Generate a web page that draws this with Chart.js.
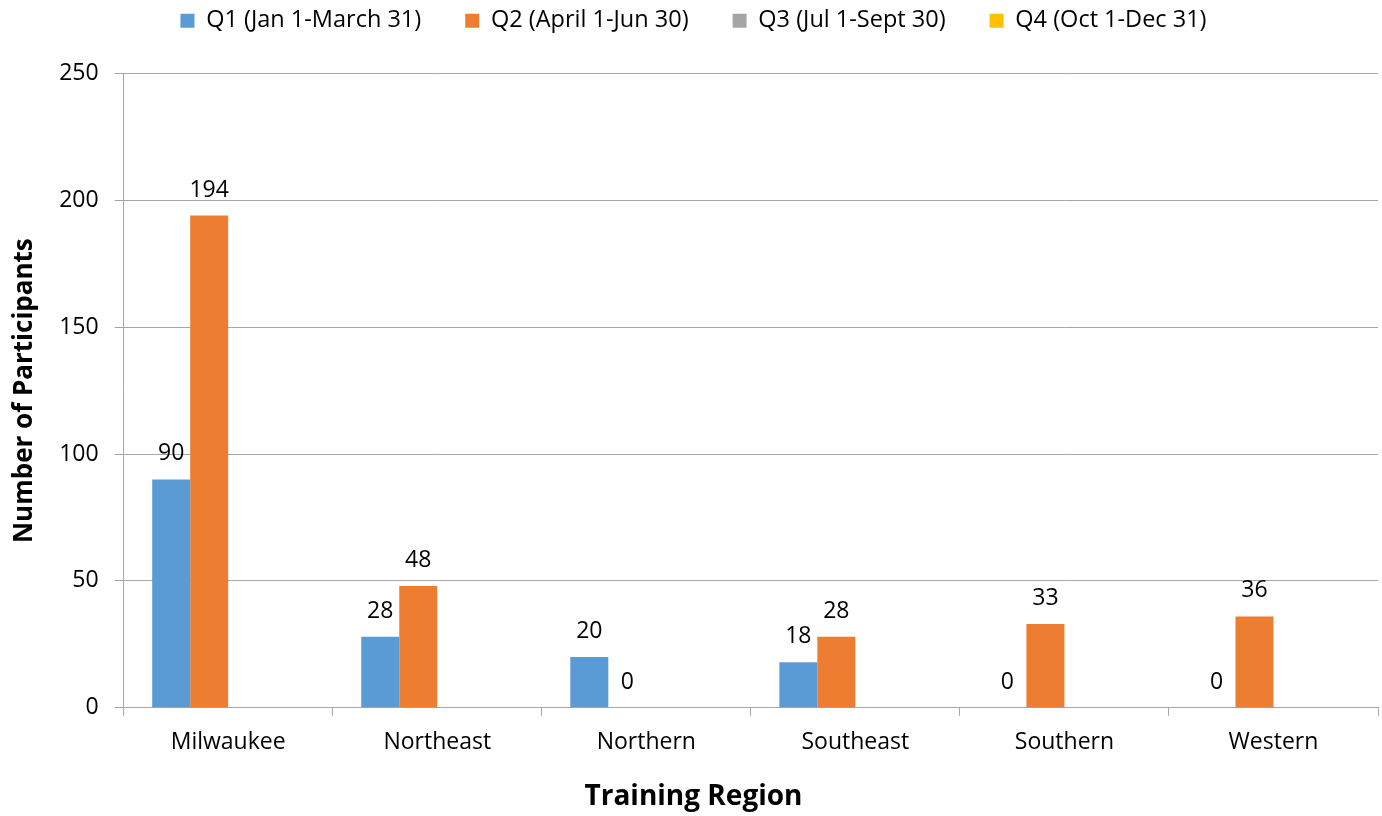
<!DOCTYPE html>
<html>
<head>
<meta charset="utf-8">
<script src="https://cdn.jsdelivr.net/npm/chart.js@4"></script>
<style>
  html, body { margin: 0; padding: 0; background: #fff; }
  #wrap { width: 1382px; height: 816px; }
</style>
</head>
<body>
<div id="wrap"><canvas id="regionChart"></canvas></div>
<script>
const regions = ["Milwaukee", "Northeast", "Northern", "Southeast", "Southern", "Western"];
const q1Values = [90, 28, 20, 18, 0, 0];
const q2Values = [194, 48, 0, 28, 33, 36];
const q3Values = [null, null, null, null, null, null];
const q4Values = [null, null, null, null, null, null];
const yTicks = [0, 50, 100, 150, 200, 250];

const FONT = "'Open Sans', sans-serif";
const gridColor = "#a6a6a6";
const legendGap = 31; // extra room between legend and plot

// value labels above each bar
const barLabels = {
  id: "barLabels",
  afterDatasetsDraw(chart) {
    const ctx = chart.ctx;
    ctx.save();
    ctx.font = "23px " + FONT;
    ctx.fillStyle = "#000";
    ctx.textAlign = "center";
    ctx.textBaseline = "alphabetic";
    chart.data.datasets.forEach((ds, i) => {
      const meta = chart.getDatasetMeta(i);
      meta.data.forEach((bar, j) => {
        const v = ds.data[j];
        if (v === null || v === undefined) return;
        ctx.fillText(String(v), bar.x, bar.y - 19);
      });
    });
    ctx.restore();
  }
};

// make the legend box a bit taller so the plot starts lower
const legendSpacer = {
  id: "legendSpacer",
  beforeLayout(chart) {
    const lg = chart.legend;
    if (!lg || lg._spaced) return;
    const fit = lg.fit.bind(lg);
    lg.fit = function () {
      fit();
      this.height += legendGap;
    };
    lg._spaced = true;
  }
};

new Chart(document.getElementById("regionChart"), {
  type: "bar",
  data: {
    labels: regions,
    datasets: [
      { label: "Q1 (Jan 1-March 31)", data: q1Values, backgroundColor: "#5b9bd5" },
      { label: "Q2 (April 1-Jun 30)", data: q2Values, backgroundColor: "#ed7d31" },
      { label: "Q3 (Jul 1-Sept 30)", data: q3Values, backgroundColor: "#a5a5a5" },
      { label: "Q4 (Oct 1-Dec 31)", data: q4Values, backgroundColor: "#ffc000" }
    ]
  },
  options: {
    responsive: true,
    maintainAspectRatio: false,
    animation: false,
    layout: { padding: { left: 9, right: 4, top: -35, bottom: 1 } },
    datasets: { bar: { categoryPercentage: 0.727, barPercentage: 1 } },
    plugins: {
      legend: {
        position: "top",
        labels: {
          font: { family: FONT, size: 23.5 },
          color: "#000",
          boxWidth: 14,
          boxHeight: 14,
          padding: 44
        }
      },
      title: {
        display: true,
        position: "bottom",
        text: "Training Region",
        font: { family: FONT, size: 28, weight: "bold" },
        color: "#000",
        padding: { top: 11, bottom: 1 }
      },
      tooltip: { enabled: false }
    },
    scales: {
      x: {
        grid: {
          display: true,
          drawOnChartArea: false,
          drawTicks: true,
          tickLength: 8,
          color: gridColor
        },
        border: { color: gridColor },
        ticks: { font: { family: FONT, size: 23 }, color: "#000", padding: 13 }
      },
      y: {
        min: 0,
        max: 250,
        afterBuildTicks: axis => { axis.ticks = yTicks.map(v => ({ value: v })); },
        grid: { color: gridColor, tickLength: 9 },
        border: { color: gridColor },
        ticks: { font: { family: FONT, size: 23 }, color: "#000", padding: 16 },
        title: {
          display: true,
          text: "Number of Participants",
          font: { family: FONT, size: 26, weight: "bold" },
          color: "#000",
          padding: { top: 0, bottom: 3 }
        }
      }
    }
  },
  plugins: [barLabels, legendSpacer]
});
</script>
</body>
</html>
